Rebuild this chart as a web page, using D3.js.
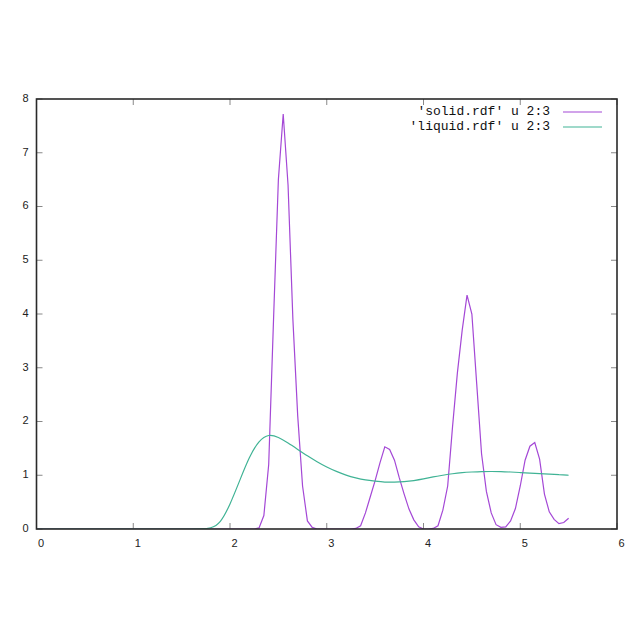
<!DOCTYPE html>
<html><head><meta charset="utf-8">
<script src="https://cdn.jsdelivr.net/npm/d3@7"></script>
<style>html,body{margin:0;padding:0;background:#fff;}svg{display:block;}</style>
</head><body>
<script>
// ---- data ----
const seriesNames = ["'solid.rdf' u 2:3", "'liquid.rdf' u 2:3"];
const xTicks = [0, 1, 2, 3, 4, 5, 6];
const yTicks = [0, 1, 2, 3, 4, 5, 6, 7, 8];
// solid: sampled every 0.05 from r = 0 to 5.5
const solidStep = 0.05;
const solidG = [
  0,0,0,0,0,0,0,0,0,0, 0,0,0,0,0,0,0,0,0,0, 0,0,0,0,0,0,0,0,0,0,
  0,0,0,0,0,0,0,0,0,0, 0,0,0,0,0,0,
  0.02,0.25,1.2,3.9,6.5,7.72,6.4,3.9,2.1,0.8,0.15,0.03,
  0,0,0,0,0,0,0,0,
  0.01,0.06,0.3,0.6,0.9,1.23,1.53,1.48,1.28,0.95,0.65,0.37,0.17,0.04,
  0,0,0.01,0.06,0.35,0.8,1.9,2.9,3.7,4.35,4.0,2.7,1.4,0.7,0.3,0.08,0.03,0.04,
  0.15,0.38,0.8,1.28,1.54,1.61,1.3,0.65,0.32,0.18,0.1,0.12,0.2
];
// liquid: sampled every 0.1 from r = 0 to 5.5
const liquidStep = 0.1;
const liquidG = [
  0,0,0,0,0,0,0,0,0,0, 0,0,0,0,0,0,0,0,
  0.01,0.1,0.45,0.9,1.35,1.65,1.77,1.71,1.6,1.48,1.36,1.25,
  1.15,1.07,1.0,0.95,0.91,0.89,0.87,0.87,0.88,0.9,
  0.93,0.97,1.0,1.03,1.05,1.06,1.07,1.07,1.07,1.06,
  1.05,1.04,1.03,1.02,1.01,1.0
];

// ---- layout ----
const W = 641, H = 641;
const L = 36.5, R = 617, T = 99, B = 529;
const svg = d3.select("body").append("svg").attr("width", W).attr("height", H);
const x = d3.scaleLinear().domain([0, 6]).range([L, R]);
const y = d3.scaleLinear().domain([0, 8]).range([B, T]);

const tickColor = "#888", tickLen = 6;
const labelFont = "Liberation Sans, Arial, sans-serif";
const g = svg.append("g");
xTicks.forEach(v => {
  g.append("line").attr("x1", x(v)).attr("x2", x(v)).attr("y1", B).attr("y2", B - tickLen).attr("stroke", tickColor);
  g.append("line").attr("x1", x(v)).attr("x2", x(v)).attr("y1", T).attr("y2", T + tickLen).attr("stroke", tickColor);
  g.append("text").attr("x", x(v) + 4.5).attr("y", B + 15.5).attr("text-anchor", "middle")
    .attr("dominant-baseline", "middle").attr("font-family", labelFont)
    .attr("font-size", 11).attr("fill", "#222").text(v);
});
yTicks.forEach(v => {
  g.append("line").attr("x1", L).attr("x2", L + tickLen).attr("y1", y(v)).attr("y2", y(v)).attr("stroke", tickColor);
  g.append("line").attr("x1", R).attr("x2", R - tickLen).attr("y1", y(v)).attr("y2", y(v)).attr("stroke", tickColor);
  g.append("text").attr("x", 28.5).attr("y", y(v)).attr("text-anchor", "end")
    .attr("dominant-baseline", "middle").attr("font-family", labelFont)
    .attr("font-size", 11).attr("fill", "#222").text(v);
});

// series
const colors = ["#a448d6", "#40b395"];
const solid = solidG.map((v, i) => [i * solidStep, v]);
const liquid = liquidG.map((v, i) => [i * liquidStep, v]);
svg.append("clipPath").attr("id", "c").append("rect")
  .attr("x", L).attr("y", T).attr("width", R - L).attr("height", B - T);
const lineLin = d3.line().x(d => x(d[0])).y(d => y(d[1]));
const lineSmooth = d3.line().x(d => x(d[0])).y(d => y(d[1])).curve(d3.curveBasis);
svg.append("path").datum(solid).attr("d", lineLin).attr("fill", "none")
  .attr("stroke", colors[0]).attr("stroke-width", 1.2).attr("clip-path", "url(#c)");
svg.append("path").datum(liquid).attr("d", lineSmooth).attr("fill", "none")
  .attr("stroke", colors[1]).attr("stroke-width", 1.2).attr("clip-path", "url(#c)");

// border
svg.append("rect").attr("x", L).attr("y", T).attr("width", R - L).attr("height", B - T)
  .attr("fill", "none").attr("stroke", "#2a2a2a").attr("stroke-width", 1.6);

// legend
const legY = [112, 127];
seriesNames.forEach((name, i) => {
  svg.append("text").attr("x", 550).attr("y", legY[i]).attr("text-anchor", "end")
    .attr("dominant-baseline", "middle").attr("font-family", "Liberation Mono, monospace")
    .attr("font-size", 13).attr("fill", "#111").text(name);
  svg.append("line").attr("x1", 563).attr("x2", 602).attr("y1", legY[i]).attr("y2", legY[i])
    .attr("stroke", colors[i]).attr("stroke-width", 1.2);
});
</script>
</body></html>
